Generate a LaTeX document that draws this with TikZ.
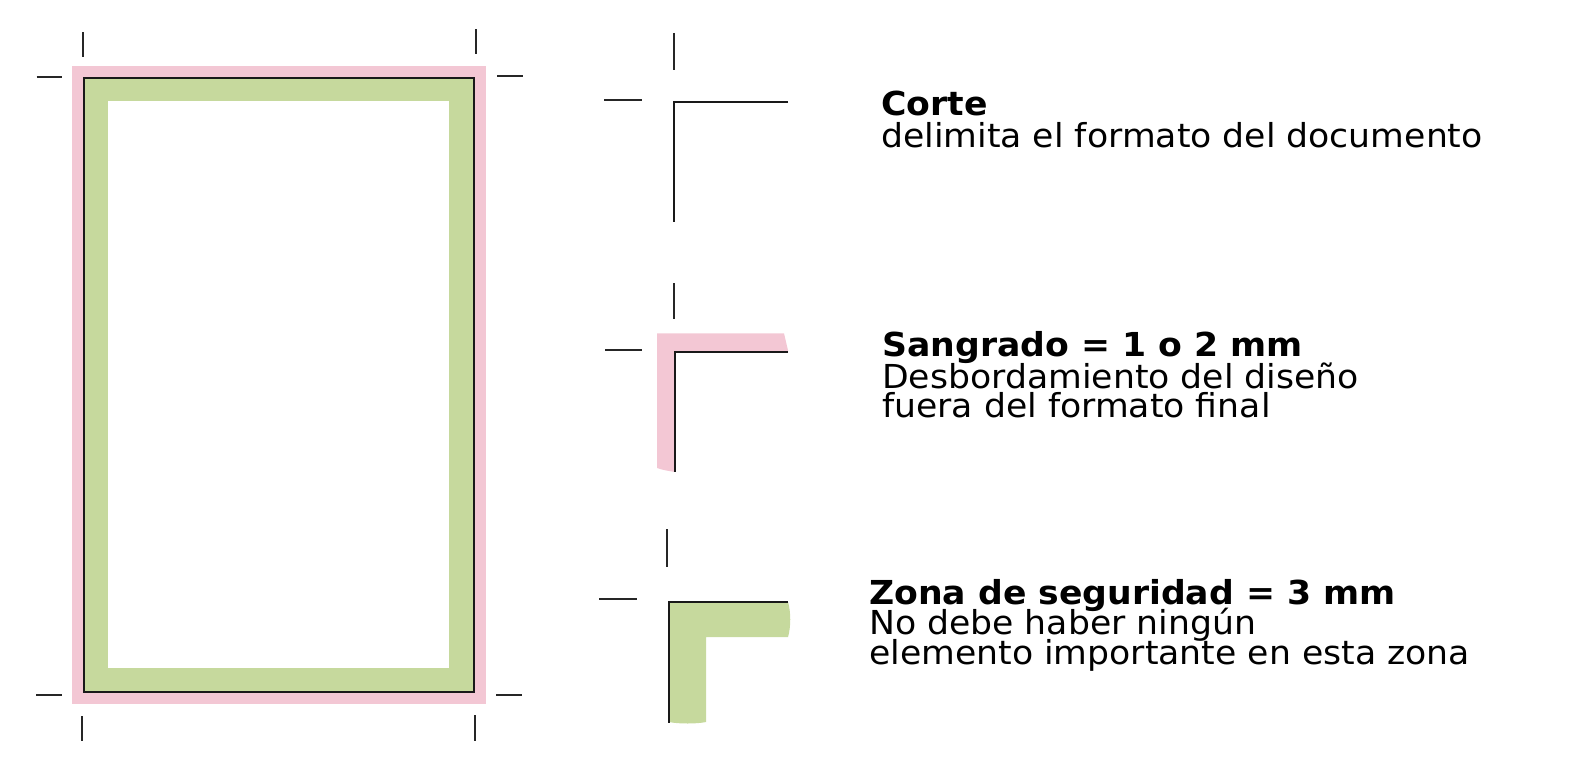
\documentclass[tikz,border=0pt]{standalone}
\usepackage{fontspec}
\newfontfamily\lab{DejaVu Sans}[FakeStretch=1.05]
\definecolor{bleedpink}{RGB}{243,199,212}
\definecolor{safegreen}{RGB}{198,217,157}
\tikzset{
  cutline/.style={line width=1.8pt, black!90},
  tick/.style={line width=1.8pt, black!85},
  txt/.style={anchor=base west, inner sep=0pt, font=\lab\fontsize{33}{33}\selectfont},
  txtb/.style={txt, font=\lab\bfseries\fontsize{33}{33}\selectfont}
}
\begin{document}
\begin{tikzpicture}[x=1pt,y=-1pt]
\useasboundingbox (0,0) rectangle (1581,765);
% ---- left document ----
\fill[bleedpink] (71.7,66) rectangle (485.7,704);
\fill[safegreen] (83.7,78.3) rectangle (474,692);
\fill[white] (107.7,101) rectangle (449.3,668.3);
\draw[cutline] (83.7,78.3) rectangle (474,692);
% crop marks
\draw[tick] (83.3,32.3) -- (83.3,57.3);
\draw[tick] (36.7,77.3) -- (62.3,77.3);
\draw[tick] (476,29.3) -- (476,54.3);
\draw[tick] (497,76) -- (523,76);
\draw[tick] (36.3,694.7) -- (62,694.7);
\draw[tick] (82,716) -- (82,741);
\draw[tick] (496,694.7) -- (522,694.7);
\draw[tick] (475,715) -- (475,740.7);
% ---- Corte ----
\draw[tick] (674,33) -- (674,70);
\draw[tick] (604,100) -- (642,100);
\draw[cutline] (788,102) -- (674,102) -- (674,222);
% ---- Sangrado ----
\fill[bleedpink] (657,333.3) -- (784,333.3) -- (788.3,351.7) -- (675,351.7) -- (675,472)
  .. controls (669,471) and (662,470) .. (657,468) -- cycle;
\draw[tick] (674.3,283) -- (674.3,319);
\draw[tick] (605,350) -- (642,350);
\draw[cutline] (788,351.7) -- (675,351.7) -- (675,471.7);
% ---- Zona de seguridad ----
\fill[safegreen] (669,602) -- (788,602) .. controls (791,612) and (791,627) .. (788,637)
  -- (706,637) -- (706,722) .. controls (697,724) and (678,724) .. (669,722) -- cycle;
\draw[tick] (667,529) -- (667,567);
\draw[tick] (599,599) -- (637,599);
\draw[cutline] (788,602) -- (669,602) -- (669,723);
% ---- texts ----
\node[txtb] (t1a) at (881,116) {Corte};
\node[txt]  (t1b) at (881,147) {delimita el formato del documento};
\node[txtb] (t2a) at (882,356) {Sangrado = 1 o 2 mm};
\node[txt]  (t2b) at (882,388) {Desbordamiento del diseño};
\node[txt]  (t2c) at (882,417) {fuera del formato final};
\node[txtb] (t3a) at (869,604) {Zona de seguridad = 3 mm};
\node[txt]  (t3b) at (869,634) {No debe haber ningún};
\node[txt]  (t3c) at (869,664) {elemento importante en esta zona};
\end{tikzpicture}
\end{document}
